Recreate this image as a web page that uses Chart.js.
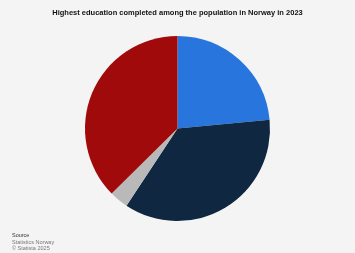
<!DOCTYPE html>
<html>
<head>
<meta charset="utf-8">
<script src="https://cdn.jsdelivr.net/npm/chart.js@4/dist/chart.umd.min.js"></script>
<style>
  html, body { margin: 0; padding: 0; background: #f4f4f4; }
  #wrap { width: 355px; height: 253px; }
</style>
</head>
<body>
<div id="wrap"><canvas id="miGrafica" width="355" height="253"></canvas></div>
<script>
const categories = ["Primary school", "Upper secondary school", "No education / unknown", "Higher education"];
const shares = [23.5, 35.8, 3.3, 37.4];
const colores = ["#2876dd", "#0f2740", "#b9b9b9", "#a10a0a"];

// source lines in the bottom left corner
const fuente = {
    id: "fuente",
    afterDraw(chart) {
        const ctx = chart.ctx;
        ctx.save();
        ctx.textBaseline = "alphabetic";
        ctx.font = "5.5px 'Liberation Sans', Arial, sans-serif";
        ctx.fillStyle = "#333";
        ctx.fillText("Source", 12, 237);
        ctx.fillStyle = "#777";
        ctx.fillText("Statistics Norway", 12, 243.5);
        ctx.fillText("© Statista 2025", 12, 250);
        ctx.restore();
    }
};

let miGrafica = document.getElementById("miGrafica").getContext("2d");
var chart = new Chart(miGrafica, {
    type: "pie",
    data: {
        labels: categories,
        datasets: [{
            data: shares,
            backgroundColor: colores,
            borderWidth: 0
        }]
    },
    options: {
        responsive: false,
        animation: false,
        layout: { padding: { top: 0, bottom: 32, left: 0, right: 0 } },
        plugins: {
            legend: { display: false },
            tooltip: { enabled: false },
            title: {
                display: true,
                text: "Highest education completed among the population in Norway in 2023",
                color: "#111",
                font: { family: "'Liberation Sans', Arial, sans-serif", size: 7.5, weight: "bold" },
                padding: { top: 8.5, bottom: 18.5 }
            }
        }
    },
    plugins: [fuente]
});
</script>
</body>
</html>
